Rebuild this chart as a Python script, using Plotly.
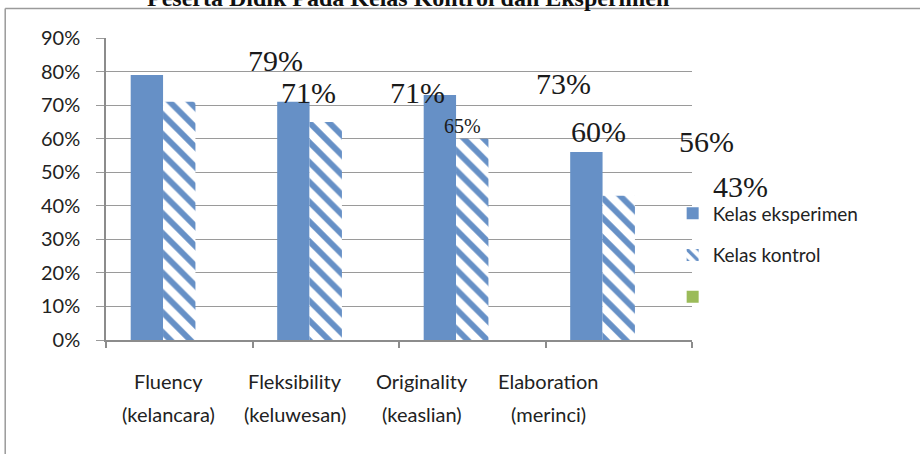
import plotly.graph_objects as go

categories = ["Fluency (kelancara)", "Fleksibility (keluwesan)", "Originality (keaslian)", "Elaboration (merinci)"]
eksperimen = [0.79, 0.71, 0.73, 0.56]
kontrol = [0.71, 0.65, 0.60, 0.43]
series_names = ["Kelas eksperimen", "Kelas kontrol", " "]
y_ticks = [0, 0.1, 0.2, 0.3, 0.4, 0.5, 0.6, 0.7, 0.8, 0.9]
title_text = "Peserta Didik Pada Kelas Kontrol dan Eksperimen"

# displaced data-label positions (paper coords) as seen in the source
label_values = [eksperimen[0], kontrol[0], eksperimen[1], kontrol[1], eksperimen[2], kontrol[2], eksperimen[3], kontrol[3]]
label_pos = [(0.290, 0.924), (0.345, 0.821), (0.531, 0.821), (0.608, 0.709),
             (0.780, 0.848), (0.841, 0.692), (1.024, 0.656), (1.082, 0.507)]
label_sizes = [30, 30, 30, 20, 30, 30, 30, 30]
cat_label_x = [-0.071, 0.793, 1.656, 2.52]

blue = "#6690C6"
green = "#9BBB59"

fig = go.Figure()
fig.add_trace(go.Bar(x=categories, y=eksperimen, name=series_names[0],
                     marker=dict(color=blue, line=dict(width=0)), legendgroup="a"))
fig.add_trace(go.Bar(x=categories, y=kontrol, name=series_names[1], legendgroup="b",
                     marker=dict(color="white", line=dict(width=0),
                                 pattern=dict(shape="\\", fgcolor=blue, bgcolor="white",
                                              size=14, solidity=0.42, fillmode="replace"))))
fig.add_trace(go.Bar(x=categories, y=[None] * len(categories), name=series_names[2],
                     marker=dict(color=green, line=dict(width=0)), legendgroup="c"))

annotations = []
for v, (px, py), fs in zip(label_values, label_pos, label_sizes):
    annotations.append(dict(x=px, y=py, xref="paper", yref="paper", xanchor="center", yanchor="middle",
                            text=f"{round(v*100)}%", showarrow=False,
                            font=dict(family="Liberation Serif", size=fs, color="#1a1a1a")))
for cx, cat in zip(cat_label_x, categories):
    name, paren = cat.split(" ", 1)
    annotations.append(dict(x=cx, y=-0.182, xref="x", yref="paper", text=name, showarrow=False,
                            font=dict(family="Lato", size=20, color="#222222")))
    annotations.append(dict(x=cx, y=-0.291, xref="x", yref="paper", text=paren, showarrow=False,
                            font=dict(family="Lato", size=20, color="#222222")))
annotations.append(dict(x=0.515, y=1.083, xref="paper", yref="paper", xanchor="center", yanchor="bottom",
                        text=f"<b>{title_text}</b>", showarrow=False,
                        font=dict(family="Liberation Serif", size=24, color="#111111")))

shapes = [
    dict(type="line", xref="paper", yref="paper", x0=-0.172, x1=1.4, y0=1.098, y1=1.098,
         line=dict(color="#9a9a9a", width=1.5)),
    dict(type="line", xref="paper", yref="paper", x0=-0.172, x1=-0.172, y0=1.098, y1=-0.4,
         line=dict(color="#9a9a9a", width=1.5)),
]

fig.update_layout(
    width=920, height=454,
    margin=dict(l=106, r=228, t=38, b=114),
    paper_bgcolor="white", plot_bgcolor="white",
    barmode="group", bargap=0.337, bargroupgap=0,
    showlegend=True,
    legend=dict(x=0.967, xanchor="left", y=0.482, yanchor="top",
                font=dict(family="Lato", size=19, color="#222222"),
                traceorder="grouped", tracegroupgap=14, itemwidth=30,
                bgcolor="rgba(0,0,0,0)"),
    annotations=annotations,
    shapes=shapes,
    xaxis=dict(type="category", showticklabels=False, showgrid=False,
               showline=True, linecolor="#8c8c8c", linewidth=1.5,
               ticks="outside", tickson="boundaries", ticklen=6, tickcolor="#8c8c8c",
               tickwidth=1.5, range=[-0.5, 3.5]),
    yaxis=dict(range=[0, 0.9], tickvals=y_ticks, tickformat=".0%",
               showgrid=True, gridcolor="#9a9a9a", gridwidth=1.3,
               showline=True, linecolor="#8c8c8c", linewidth=1.5,
               ticks="outside", ticklen=8, tickcolor="#9a9a9a", tickwidth=1.3,
               ticklabelstandoff=12, zeroline=False,
               tickfont=dict(family="Lato", size=20, color="#222222")),
)

fig.write_html("out.html")
